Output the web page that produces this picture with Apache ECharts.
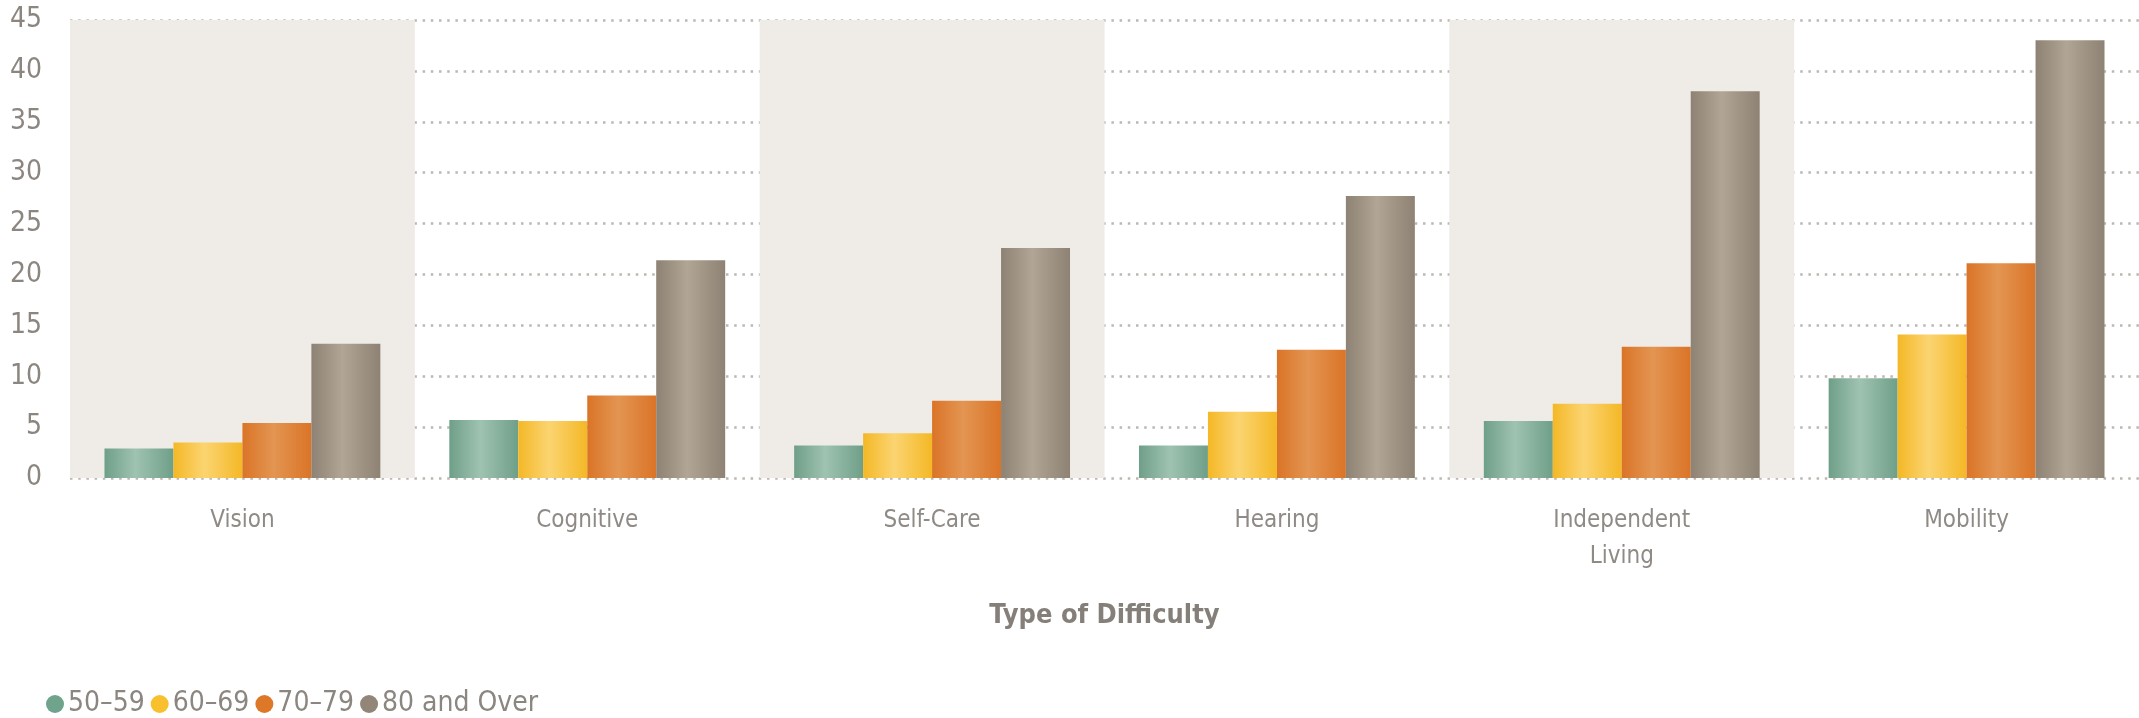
<!DOCTYPE html>
<html>
<head>
<meta charset="utf-8">
<script src="https://cdn.jsdelivr.net/npm/echarts@6/dist/echarts.min.js"></script>
<style>
  html, body { margin: 0; padding: 0; background: #fff; }
  #main { width: 2139px; height: 718px; }
</style>
</head>
<body>
<div id="main"></div>
<script>
// 数据
const categories = ['Vision', 'Cognitive', 'Self-Care', 'Hearing', 'Independent\nLiving', 'Mobility'];
const ageGroups = ['50–59', '60–69', '70–79', '80 and Over'];
const age5059 = [2.9, 5.7, 3.2, 3.2, 5.6, 9.8];
const age6069 = [3.5, 5.6, 4.4, 6.5, 7.3, 14.1];
const age7079 = [5.4, 8.1, 7.6, 12.6, 12.9, 21.1];
const age80up = [13.2, 21.4, 22.6, 27.7, 38.0, 43.0];
const yTicks = [0, 5, 10, 15, 20, 25, 30, 35, 40, 45];

const FONT = '"Liberation Sans Narrow", "DejaVu Sans Condensed", "Roboto", sans-serif';

// 柱子的横向渐变（两边深、中间亮）
function barGrad(edge, mid) {
  return new echarts.graphic.LinearGradient(0, 0, 1, 0, [
    { offset: 0, color: edge },
    { offset: 0.45, color: mid },
    { offset: 1, color: edge }
  ]);
}

const seriesColors = [
  { legend: '#6fa38b', edge: '#6f9f88', mid: '#9fc3b1' },
  { legend: '#f7c02c', edge: '#f4b826', mid: '#fbd471' },
  { legend: '#de7829', edge: '#da7427', mid: '#e39552' },
  { legend: '#918678', edge: '#8d8273', mid: '#b1a695' }
];
const seriesData = [age5059, age6069, age7079, age80up];

const chart = echarts.init(document.getElementById('main'), null, { renderer: 'canvas' });

chart.setOption({
  backgroundColor: '#ffffff',
  animation: false,
  textStyle: { fontFamily: FONT },
  grid: {
    left: 70,
    right: 0,
    top: 20,
    bottom: 240
  },
  legend: {
    left: 46,
    top: 690,
    padding: 0,
    icon: 'circle',
    itemWidth: 18,
    itemHeight: 18,
    itemGap: 6,
    data: ageGroups.map((name, i) => ({ name: name, itemStyle: { color: seriesColors[i].legend } })),
    textStyle: { fontFamily: FONT, fontSize: 28, color: '#8c8680', padding: [0, 0, 0, -1] }
  },
  xAxis: {
    type: 'category',
    data: categories,
    name: 'Type of Difficulty',
    nameLocation: 'middle',
    nameGap: 124,
    nameTextStyle: { fontFamily: FONT, fontSize: 27, fontWeight: 'bold', color: '#857f79' },
    axisLine: { show: false },
    axisTick: { show: false },
    axisLabel: {
      fontFamily: FONT,
      fontSize: 24,
      color: '#8f8a85',
      margin: 25,
      lineHeight: 36
    },
    splitLine: { show: false },
    splitArea: {
      show: true,
      areaStyle: { color: ['#efece8', 'rgba(255,255,255,0)'] }
    }
  },
  yAxis: {
    type: 'value',
    min: yTicks[0],
    max: yTicks[yTicks.length - 1],
    interval: 5,
    axisLine: { show: false },
    axisTick: { show: false },
    axisLabel: {
      fontFamily: FONT,
      fontSize: 28,
      color: '#8c8680',
      margin: 28
    },
    splitLine: {
      show: true,
      lineStyle: { color: '#bcb7b1', width: 2.5, type: [2.5, 5.7] }
    }
  },
  series: seriesData.map((vals, i) => ({
    name: ageGroups[i],
    type: 'bar',
    data: vals,
    barGap: '0%',
    barCategoryGap: '20%',
    itemStyle: { color: barGrad(seriesColors[i].edge, seriesColors[i].mid) }
  }))
});
</script>
</body>
</html>
